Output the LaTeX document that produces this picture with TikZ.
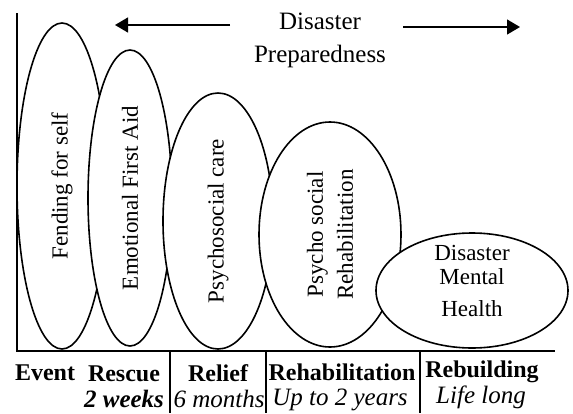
\documentclass[tikz,border=0pt]{standalone}
\usepackage{fontspec}
\setmainfont{Liberation Serif}
\usetikzlibrary{shapes.geometric,arrows.meta}

\begin{document}
\begin{tikzpicture}[x=0.5pt,y=-0.5pt,
    phase/.style={ellipse,draw,fill=white,line width=0.8pt,inner sep=0pt,align=center,font=\fontsize{11.5}{15}\selectfont},
    stage/.style={anchor=base,font=\fontsize{12}{14}\selectfont\bfseries},
    span/.style={anchor=base,font=\fontsize{12.5}{14}\selectfont\itshape}]
    \useasboundingbox (0,0) rectangle (573,413);
    % axes
    \coordinate (top) at (17,13);
    \coordinate (origin) at (17,351);
    \coordinate (xend) at (555,351);
    \draw[line width=1pt] (top) -- (origin) -- (xend);
    % header with arrows
    \node[align=center,font=\fontsize{12.5}{16.5}\selectfont] (hdr) at (320,40) {Disaster\\Preparedness};
    \coordinate (la) at (230,25);
    \coordinate (lb) at (115,25);
    \coordinate (ra) at (403,27);
    \coordinate (rb) at (520,27);
    \draw[line width=0.65pt,-{Triangle[length=6.5pt,width=7.5pt]}] (la) -- (lb);
    \draw[line width=0.65pt,-{Triangle[length=6.5pt,width=7.5pt]}] (ra) -- (rb);
    % phases
    \node[phase,rotate=90,minimum width=163pt,minimum height=45pt] (fending) at (62,186) {Fending for self};
    \node[phase,rotate=90,minimum width=148pt,minimum height=42pt] (firstaid) at (130,198) {Emotional First Aid};
    \node[phase,rotate=90,minimum width=128pt,minimum height=55pt] (psychocare) at (218,221) {Psychosocial care};
    \node[phase,rotate=90,minimum width=112.5pt,minimum height=71pt] (rehabcare) at (330,234.5) {Psycho social\\Rehabilitation};
    \node[phase,minimum width=96pt,minimum height=57.5pt] (dmh) at (472,290.5) {};
    \node[align=center,font=\fontsize{11.5}{12}\selectfont] (dmhtext) at (472,281) {Disaster\\Mental\\[4pt]Health};
    % stages
    \coordinate (d1) at (170,351);
    \coordinate (d2) at (266,351);
    \coordinate (d3) at (420,351);
    \foreach \d in {d1,d2,d3}
        \draw[line width=0.6pt] (\d) -- ++(0,62);
    \node[stage] (event) at (45,380) {Event};
    \node[stage] (rescue) at (124,381) {Rescue};
    \node[stage] (relief) at (218,381) {Relief};
    \node[stage] (rehab) at (342,380) {Rehabilitation};
    \node[stage] (rebuild) at (482,377) {Rebuilding};
    \node[span,font=\fontsize{12.5}{14}\selectfont\bfseries\itshape] (weeks) at (124,407) {2 weeks};
    \node[span] (months) at (219,407) {6 months};
    \node[span] (years) at (340,405) {Up to 2 years};
    \node[span] (life) at (481,403) {Life long};
\end{tikzpicture}
\end{document}
